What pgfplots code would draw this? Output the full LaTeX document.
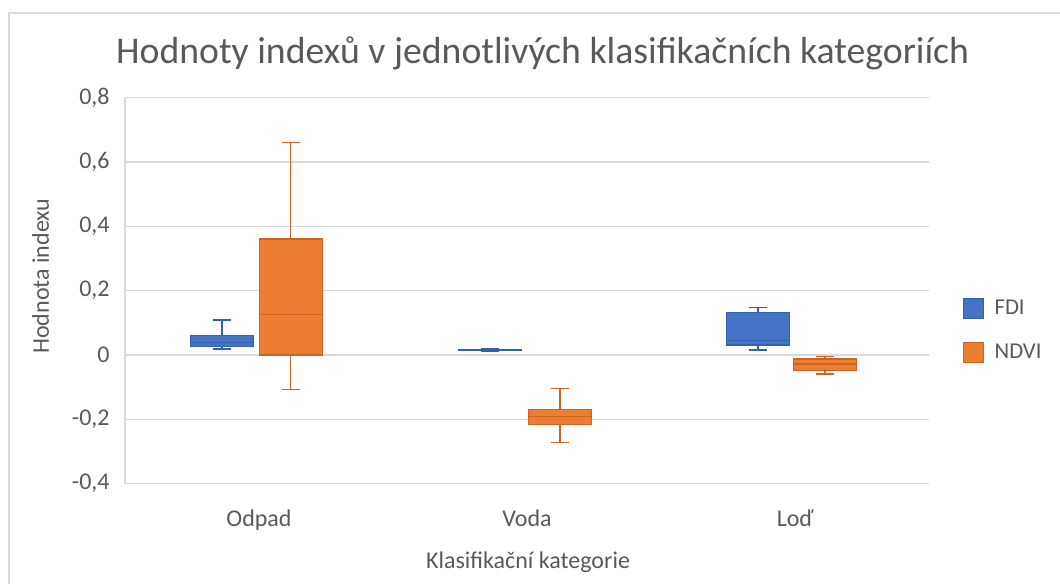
\documentclass[border=0pt]{standalone}
\usepackage{fontspec}
\setmainfont{Carlito}
\usepackage{pgfplots}
\pgfplotsset{compat=1.18}
\usepgfplotslibrary{statistics}
\definecolor{fdi}{HTML}{4472C4}
\definecolor{fdiD}{HTML}{3461AE}
\definecolor{ndvi}{HTML}{ED7D31}
\definecolor{ndviD}{HTML}{CB6424}
\definecolor{txt}{HTML}{595959}
\definecolor{gridc}{HTML}{D9D9D9}

\begin{document}
\begin{tikzpicture}
% 1 px of the reference = 0.75 pt; axis at the origin
\path[use as bounding box] (-93.75pt,362.8pt) rectangle (701.25pt,-75.2pt);
\draw[gridc, line width=0.9pt] (-87pt,-75.2pt) -- (-87pt,353.05pt) -- (701.25pt,353.05pt);

\begin{axis}[
  scale only axis, width=603pt, height=289.5pt,
  xmin=0.5, xmax=3.5, ymin=-0.4, ymax=0.8,
  xtick={1,2,3}, xticklabels={Odpad,Voda,Loď},
  ytick={-0.4,-0.2,0,0.2,0.4,0.6,0.8},
  yticklabels={{-0,4},{-0,2},{0},{0,2},{0,4},{0,6},{0,8}},
  major tick length=0pt,
  ymajorgrids, grid style={gridc, line width=1pt},
  axis x line*=bottom, axis y line*=left,
  axis line style={gridc, line width=1pt, -},
  tick label style={text=txt, font=\fontsize{18}{20}\selectfont},
  xticklabel style={yshift=-16pt},
  yticklabel style={xshift=-8pt},
  boxplot/draw direction=y,
  legend style={at={(1,0.397)}, anchor=west, xshift=25pt, draw=none, fill=none,
    inner sep=0pt, row sep=17pt, font=\fontsize{17}{19}\selectfont,
    text=txt, nodes={inner sep=0pt, anchor=west}},
  legend cell align=left,
  legend image code/.code={\draw[#1] (0pt,-7.6pt) rectangle (15.2pt,7.6pt);},
]
% Odpad
\addplot[draw=fdiD, fill=fdi, line width=0.9pt, forget plot,
  boxplot prepared={lower whisker=0.019, lower quartile=0.026,
  median=0.040, upper quartile=0.060, upper whisker=0.109,
  draw position=0.862, box extend=0.235, whisker extend=0.07}]
  coordinates {};
\addplot[draw=ndviD, fill=ndvi, line width=0.9pt, forget plot,
  boxplot prepared={lower whisker=-0.107, lower quartile=0.0,
  median=0.127, upper quartile=0.361, upper whisker=0.662,
  draw position=1.119, box extend=0.235, whisker extend=0.07}]
  coordinates {};
% Voda
\addplot[draw=fdiD, fill=fdi, line width=0.9pt, forget plot,
  boxplot prepared={lower whisker=0.012, lower quartile=0.014,
  median=0.016, upper quartile=0.018, upper whisker=0.020,
  draw position=1.862, box extend=0.235, whisker extend=0.07}]
  coordinates {};
\addplot[draw=ndviD, fill=ndvi, line width=0.9pt, forget plot,
  boxplot prepared={lower whisker=-0.272, lower quartile=-0.216,
  median=-0.192, upper quartile=-0.168, upper whisker=-0.103,
  draw position=2.123, box extend=0.235, whisker extend=0.07}]
  coordinates {};
% Lod
\addplot[draw=fdiD, fill=fdi, line width=0.9pt, forget plot,
  boxplot prepared={lower whisker=0.016, lower quartile=0.031,
  median=0.045, upper quartile=0.132, upper whisker=0.148,
  draw position=2.862, box extend=0.235, whisker extend=0.07}]
  coordinates {};
\addplot[draw=ndviD, fill=ndvi, line width=0.9pt, forget plot,
  boxplot prepared={lower whisker=-0.059, lower quartile=-0.048,
  median=-0.028, upper quartile=-0.012, upper whisker=-0.005,
  draw position=3.112, box extend=0.235, whisker extend=0.07}]
  coordinates {};

\addlegendimage{draw=fdiD, fill=fdi, line width=0.8pt}
\addlegendentry{\hspace{8pt}FDI}
\addlegendimage{draw=ndviD, fill=ndvi, line width=0.8pt}
\addlegendentry{\hspace{8pt}NDVI}
\end{axis}

\node[text=txt, font=\fontsize{28.3}{32}\selectfont, anchor=base]
  at (313.25pt,314.8pt) {Hodnoty indexů v jednotlivých klasifikačních kategoriích};
\node[text=txt, font=\fontsize{18}{20}\selectfont, rotate=90]
  at (-63.25pt,155.8pt) {Hodnota indexu};
\node[text=txt, font=\fontsize{18}{20}\selectfont]
  at (302.25pt,-59.2pt) {Klasifikační kategorie};
\end{tikzpicture}
\end{document}
